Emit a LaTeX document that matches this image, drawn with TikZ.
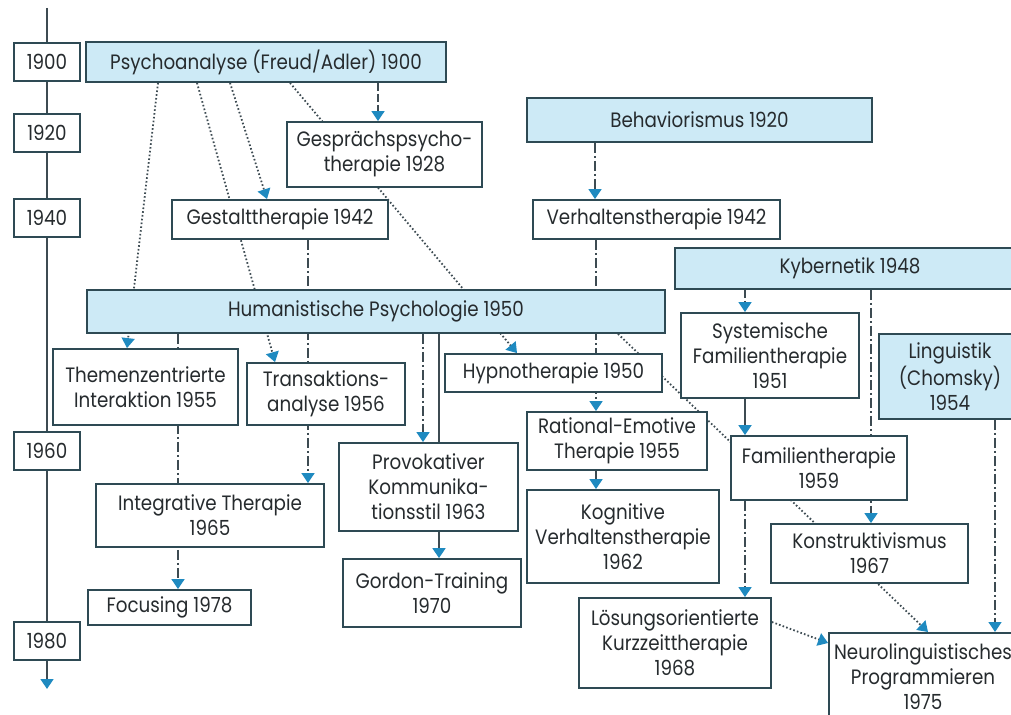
\documentclass[tikz,border=0pt]{standalone}
\usepackage{fontspec}
\setmainfont{Poppins}[FakeStretch=0.88]
\usetikzlibrary{arrows.meta,backgrounds}
\definecolor{Edge}{HTML}{2E4A54}
\definecolor{Sky}{HTML}{CDEAF6}
\definecolor{Tip}{HTML}{1F8AC0}
\definecolor{Ink}{HTML}{262B2E}
\definecolor{Wire}{HTML}{3D4B52}

\begin{document}
\begin{tikzpicture}[x=0.5pt,y=-0.5pt,
    box/.style={draw=Edge,line width=0.9pt,fill=white,align=center,inner sep=1pt,
      font=\fontsize{10.4}{12.5}\selectfont,text=Ink},
    root/.style={box,fill=Sky},
    year/.style={box,minimum width=33pt,minimum height=19pt},
    link/.style={draw=Wire,line width=0.75pt,-{Triangle[color=Tip,length=5pt,width=6.5pt]}},
    plain/.style={draw=Wire,line width=0.9pt},
    dotln/.style={link,line width=0.9pt,dash pattern=on 0.8pt off 1.1pt},
    dashln/.style={link,dash pattern=on 4pt off 1.5pt},
    dotdash/.style={link,dash pattern=on 5pt off 1.5pt on 1pt off 1.5pt}
  ]
  \useasboundingbox (0,0) rectangle (1011,715);
  \clip (0,0) rectangle (1011,715);

  % time axis
  \node[year] (y1900) at (47,62) {1900};
  \node[year] (y1920) at (47,133) {1920};
  \node[year] (y1940) at (47,218) {1940};
  \node[year] (y1960) at (47,451) {1960};
  \node[year] (y1980) at (47,641) {1980};
  \coordinate (axtop) at (47,8);
  \coordinate (axend) at (47,689);

  % schools
  \node[root,minimum width=180pt,minimum height=20pt] (psy) at (266,62)
    {Psychoanalyse (Freud/Adler) 1900};
  \node[box,minimum width=97.5pt,minimum height=32.5pt] (gespr) at (384.5,154.5)
    {Gesprächspsycho-\\therapie 1928};
  \node[root,minimum width=172.5pt,minimum height=22pt] (behav) at (699.5,120)
    {Behaviorismus 1920};
  \node[box,minimum width=108pt,minimum height=19.5pt] (gestalt) at (280,219.5)
    {Gestalttherapie 1942};
  \node[box,minimum width=123.5pt,minimum height=19.5pt] (verh) at (656.5,219.5)
    {Verhaltenstherapie 1942};
  \node[root,minimum width=175pt,minimum height=20.5pt] (kyb) at (850,268.5)
    {Kybernetik 1948};
  \node[root,minimum width=289pt,minimum height=21.5pt] (hum) at (376,311.5)
    {Humanistische Psychologie 1950};
  \node[box,minimum width=92.5pt,minimum height=38pt] (themen) at (145.5,387)
    {Themenzentrierte\\Interaktion 1955};
  \node[box,minimum width=79pt,minimum height=31pt] (trans) at (326,394)
    {Transaktions-\\analyse 1956};
  \node[box,minimum width=108.5pt,minimum height=19pt] (hypno) at (553.5,373)
    {Hypnotherapie 1950};
  \node[box,minimum width=89pt,minimum height=42.5pt] (syst) at (770,355.5)
    {Systemische\\Familientherapie\\1951};
  \node[root,minimum width=71pt,minimum height=42.5pt] (ling) at (950,376.5)
    {Linguistik\\(Chomsky)\\1954};
  \node[box,minimum width=90pt,minimum height=29pt] (rat) at (617,441)
    {Rational-Emotive\\Therapie 1955};
  \node[box,minimum width=88pt,minimum height=32pt] (fam) at (819,468)
    {Familientherapie\\1959};
  \node[box,minimum width=89.5pt,minimum height=44pt] (prov) at (428.5,487)
    {Provokativer\\Kommunika-\\tionsstil 1963};
  \node[box,minimum width=96pt,minimum height=46.5pt] (kogn) at (623,536.5)
    {Kognitive\\Verhaltenstherapie\\1962};
  \node[box,minimum width=114pt,minimum height=31.5pt] (integ) at (210,515.5)
    {Integrative Therapie\\1965};
  \node[box,minimum width=98.5pt,minimum height=29.5pt] (konst) at (869.5,553.5)
    {Konstruktivismus\\1967};
  \node[box,minimum width=89pt,minimum height=34pt] (gordon) at (432,593)
    {Gordon-Training\\1970};
  \node[box,minimum width=81.5pt,minimum height=17.5pt] (focus) at (169.5,607.5)
    {Focusing 1978};
  \node[box,minimum width=96pt,minimum height=45pt] (loes) at (675,643)
    {Lösungsorientierte\\Kurzzeittherapie\\1968};
  \node[box,minimum width=94pt,minimum height=44pt,anchor=north] (neuro) at (923,632)
    {Neurolinguistisches\\Programmieren\\1975};

  \begin{scope}[on background layer]
    \draw[plain] (axtop) -- (y1900) -- (y1920) -- (y1940) -- (y1960) -- (y1980);
    \draw[link] (y1980.south) -- (axend);

    % from Psychoanalyse
    \draw[dashln] (378,0 |- psy.south) -- (378,0 |- gespr.north);
    \draw[dotln] (158,0 |- psy.south) -- (127,0 |- themen.north);
    \draw[dotln] (197,0 |- psy.south) -- (275,0 |- trans.north);
    \draw[dotln] (230,0 |- psy.south) -- (267,0 |- gestalt.north);
    \draw[dotln] (290,0 |- psy.south) -- (517,0 |- hypno.north);

    % humanistic line
    \draw[dotdash] (308,0 |- gestalt.south) -- (308,0 |- integ.north);
    \draw[dotdash] (178,0 |- hum.south) -- (178,0 |- focus.north);
    \draw[dotdash] (423,0 |- hum.south) -- (423,0 |- prov.north);
    \draw[link,line width=0.9pt] (439,0 |- hum.south) -- (439,0 |- gordon.north);
    \draw[dotln] (618,0 |- hum.south) -- (928,0 |- neuro.north);

    % behavioural line
    \draw[dotdash] (595,0 |- behav.south) -- (595,0 |- verh.north);
    \draw[dotdash] (596,0 |- verh.south) -- (596,0 |- rat.north);
    \draw[link] (596,0 |- rat.south) -- (596,0 |- kogn.north);

    % systemic line
    \draw[dashln] (745,0 |- kyb.south) -- (745,0 |- syst.north);
    \draw[link,line width=0.9pt] (745,0 |- syst.south) -- (745,0 |- fam.north);
    \draw[dotdash] (871,0 |- kyb.south) -- (871,0 |- konst.north);
    \draw[dotdash] (745,0 |- fam.south) -- (745,0 |- loes.north);
    \draw[dotln] (loes.east |- 0,622) -- (neuro.west |- 0,643);
    \draw[dotdash] (995,0 |- ling.south) -- (995,0 |- neuro.north);
  \end{scope}
\end{tikzpicture}
\end{document}
